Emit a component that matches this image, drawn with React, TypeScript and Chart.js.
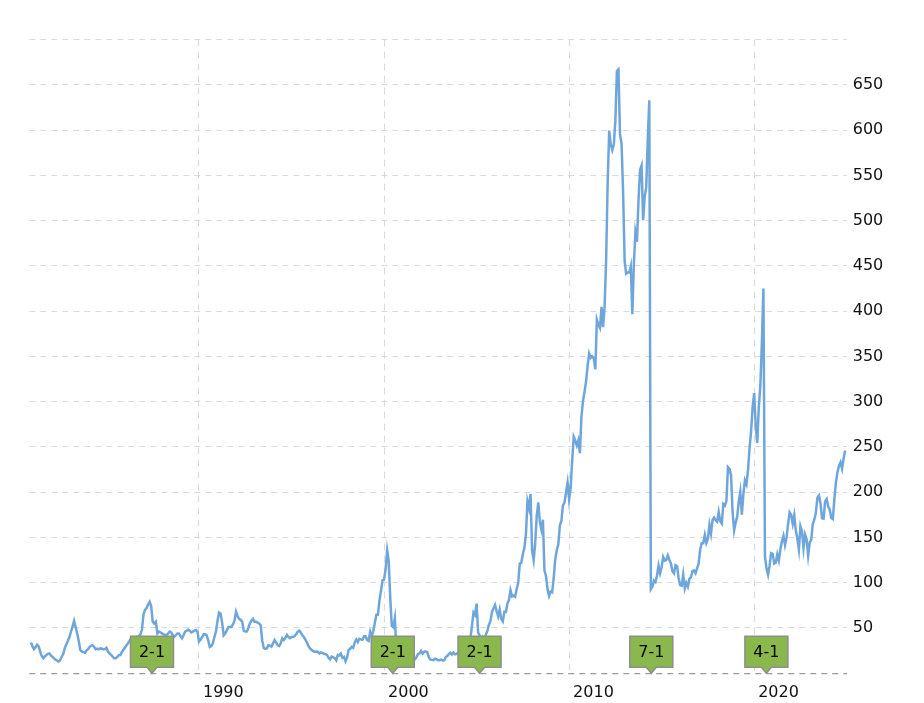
import { useEffect, useRef } from "react";
import { Chart, registerables } from "chart.js";

Chart.register(...registerables);

// Monthly closing price (unadjusted), first value = Dec 1980
const firstYear = 1980;
const firstMonth = 12;

const close1980s = [
  34,
  30, 26.7, 28.5, 31.5, 30, 24, 19, 16.5, 18.5, 20, 21.5, 22,
  19.5, 18.3, 16.5, 15, 14, 12.8, 14.6, 18.3, 21.5, 28, 32, 36,
  40, 46, 51.5, 58, 51, 44, 36, 25.7, 24, 23.4, 22.7, 25,
  26.5, 29, 30.3, 31, 29, 26.5, 27.3, 26.5, 27.5, 27, 26.5, 26.5,
  28, 23.8, 22, 20.2, 18.3, 16.5, 16.5, 18, 20, 20.2, 23.5, 26,
  28.5, 31, 33, 36, 38.5, 38, 38, 40, 40, 41, 43, 48,
  65, 70, 72, 76, 79, 74, 57, 55, 57, 44, 46, 45,
  44, 43, 42.5, 42.2, 44, 46, 45, 42, 40.4, 42, 44, 44,
  41, 38.6, 42, 46, 47, 48, 47, 45, 46, 47, 47.8, 46,
];

const close1990s = [
  35, 37, 40, 43, 43, 42, 36, 29, 30, 33, 40, 46,
  58, 67, 66, 56, 42, 44, 47, 51, 51, 51, 54, 58,
  68, 63, 60, 59, 57, 47, 46, 46, 50, 55, 58, 60,
  57, 57, 56, 55, 53, 36, 28, 27, 27.5, 31, 30.5, 29.3,
  33, 36.7, 34, 31, 30, 33, 38.6, 36.7, 39, 42.4, 40, 38.8,
  40, 40, 41, 43, 46, 47, 45, 42, 40, 37, 34, 30,
  27.5, 26, 24.5, 23.8, 24, 23.8, 22, 23, 22.5, 21.5, 21, 20.2,
  17, 15.3, 18.3, 17.6, 16.7, 14.3, 20.2, 19.5, 21.7, 17, 18, 13.1,
  17.5, 25.6, 27.0, 29.1, 28.1, 34.3, 37.3, 34.5, 38.1, 37.4, 36.9, 40.9,
  40.9, 36.9, 35.8, 46.0, 40.9, 46.3, 55.6, 64.5, 64.5, 80.3, 91.0, 102.8,
];

const close2000s = [
  103.75, 114.62, 135.81, 124.06, 84.0, 52.38, 50.81, 60.94, 25.75, 19.56, 16.5, 14.88,
  21.62, 19.94, 22.07, 25.49, 19.95, 23.25, 18.79, 18.55, 15.51, 17.56, 21.3, 21.9,
  24.72, 21.7, 23.67, 24.27, 23.3, 17.72, 15.26, 14.76, 14.5, 16.07, 15.53, 14.33,
  14.36, 15.01, 14.14, 14.22, 17.95, 19.06, 21.08, 22.61, 20.72, 22.89, 20.91, 21.37,
  22.56, 23.92, 27.04, 25.78, 28.06, 32.54, 32.34, 34.75, 38.75, 52.4, 67.05, 64.4,
  76.9, 44.86, 41.67, 36.06, 39.76, 36.81, 42.65, 46.89, 53.61, 57.59, 67.82, 71.89,
  75.51, 68.49, 62.72, 70.39, 59.77, 57.27, 67.96, 67.85, 76.98, 81.08, 91.66, 84.84,
  85.73, 84.61, 92.91, 99.8, 121.19, 122.04, 131.76, 138.48, 153.47, 189.95, 182.22, 198.08,
  135.36, 125.02, 143.5, 173.95, 188.75, 167.44, 158.95, 169.53, 113.66, 107.59, 92.67, 85.35,
  90.13, 89.31, 105.12, 125.83, 135.81, 142.43, 163.39, 168.21, 185.35, 188.5, 199.91, 210.73,
];

const close2010s = [
  192.06, 204.62, 235.0, 261.09, 256.88, 251.53, 257.25, 243.1, 283.75, 300.98, 311.15, 322.56,
  339.32, 353.21, 348.51, 350.13, 347.83, 335.67, 390.48, 384.83, 381.32, 404.78, 382.2, 405.0,
  456.48, 542.44, 599.55, 583.98, 577.73, 584.0, 610.76, 665.24, 667.1, 595.32, 585.28, 532.17,
  455.49, 441.4, 442.66, 442.78, 449.73, 396.53, 452.53, 487.22, 476.75, 522.7, 556.07, 561.02,
  500.6, 526.24, 536.74, 590.09, 633.0, 92.93, 95.6, 102.5, 100.75, 108.0, 118.93, 110.38,
  117.16, 128.46, 124.43, 125.15, 130.28, 125.43, 121.3, 112.76, 110.3, 119.5, 118.3, 105.26,
  97.34, 96.69, 108.99, 93.74, 99.86, 95.6, 104.21, 106.1, 113.05, 113.54, 110.52, 115.82,
  121.35, 136.99, 143.66, 143.65, 152.76, 144.02, 148.73, 164.0, 154.12, 169.04, 171.85, 169.23,
  167.43, 178.12, 167.78, 165.26, 186.87, 185.11, 190.29, 227.63, 225.74, 218.86, 178.58, 157.74,
  166.44, 173.15, 189.95, 200.67, 175.07, 197.92, 213.04, 208.74, 223.97, 248.76, 267.25, 293.65,
];

const close2020s = [
  309.51, 273.36, 254.29, 293.8, 317.94, 364.8, 425.04, 129.04, 115.81, 108.86, 119.05, 132.69,
  131.96, 121.26, 122.15, 131.46, 124.61, 136.96, 145.86, 151.83, 141.5, 149.8, 165.3, 177.57,
  174.78, 165.12, 174.61, 157.65, 148.84, 136.72, 162.51, 157.22, 138.2, 153.34, 148.03, 129.93,
  144.29, 147.41, 164.9, 169.68, 177.25, 193.97, 196.45, 187.87, 171.21, 170.77, 189.95, 192.53,
  184.4, 180.75, 171.48, 170.33, 192.25, 210.62, 222.08, 229.0, 233.0, 225.91, 237.33, 246.0,
];

const yearTicks = [1990, 2000, 2010, 2020];
const splitDates = [1987.46, 2000.47, 2005.16, 2014.44, 2020.66];
const splitLabels = ["2-1", "2-1", "2-1", "7-1", "4-1"];

const xMin = 1980.83;
const xMax = 2025.0;
const yMin = 0;
const yMax = 700;
const yStep = 50;

const FONT = "'DejaVu Sans', Verdana, sans-serif";

const splitMarkers = {
  id: "splitMarkers",
  afterDatasetsDraw(chart: any) {
    const { ctx } = chart;
    const x = chart.scales.x;
    const y = chart.scales.y;
    const base = y.getPixelForValue(0);
    const w = 43;
    const h = 31;
    const tip = 6;
    splitDates.forEach((d, i) => {
      const cx = x.getPixelForValue(d);
      const bottom = base - tip;
      const top = bottom - h;
      const l = cx - w / 2;
      const r = cx + w / 2;
      ctx.save();
      ctx.beginPath();
      ctx.moveTo(l, top);
      ctx.lineTo(r, top);
      ctx.lineTo(r, bottom);
      ctx.lineTo(cx + 5, bottom);
      ctx.lineTo(cx, base);
      ctx.lineTo(cx - 5, bottom);
      ctx.lineTo(l, bottom);
      ctx.closePath();
      ctx.fillStyle = "#8bb84d";
      ctx.fill();
      ctx.lineWidth = 1.5;
      ctx.strokeStyle = "#8e8e8e";
      ctx.stroke();
      ctx.fillStyle = "#000";
      ctx.font = `16px ${FONT}`;
      ctx.textAlign = "center";
      ctx.textBaseline = "middle";
      ctx.fillText(splitLabels[i], cx, (top + bottom) / 2 + 1);
      ctx.restore();
    });
  },
};

export default function App() {
  const canvasRef = useRef<HTMLCanvasElement | null>(null);

  useEffect(() => {
    if (!canvasRef.current) return;
    const all = [...close1980s, ...close1990s, ...close2000s, ...close2010s, ...close2020s];
    const points = all.map((v, i) => ({
      x: firstYear + (firstMonth - 1 + i) / 12,
      y: v,
    }));

    const chart = new Chart(canvasRef.current, {
      type: "line",
      data: {
        datasets: [
          {
            data: points,
            borderColor: "#6ea6dc",
            borderWidth: 2.5,
            pointRadius: 0,
            tension: 0,
            fill: false,
          },
        ],
      },
      options: {
        animation: false,
        responsive: true,
        maintainAspectRatio: false,
        parsing: false as any,
        layout: { padding: { left: 29.3, top: 39.6, right: 0, bottom: 0 } },
        plugins: {
          legend: { display: false },
          tooltip: { enabled: false },
        },
        scales: {
          x: {
            type: "linear",
            min: xMin,
            max: xMax,
            afterBuildTicks: (scale: any) => {
              scale.ticks = yearTicks.map((v) => ({ value: v }));
            },
            afterFit: (scale: any) => {
              scale.height = 29.75;
            },
            grid: {
              color: "#dadada",
              lineWidth: 1,
              drawTicks: false,
            },
            border: { display: false, dash: [7, 5] },
            ticks: {
              callback: (v: any) => String(v),
              align: "start",
              labelOffset: 4,
              padding: 10,
              maxRotation: 0,
              autoSkip: false,
              color: "#111",
              font: { family: FONT, size: 16 },
            },
          },
          y: {
            type: "linear",
            position: "right",
            min: yMin,
            max: yMax,
            afterFit: (scale: any) => {
              scale.width = 77.3;
            },
            grid: {
              color: (c: any) => (c.tick && c.tick.value === 0 ? "#9a9a9a" : "#dadada"),
              lineWidth: (c: any) => (c.tick && c.tick.value === 0 ? 1.2 : 1),
              drawTicks: false,
            },
            border: { display: false, dash: [6, 5] },
            ticks: {
              stepSize: yStep,
              padding: 6,
              color: "#111",
              font: { family: FONT, size: 16 },
              callback: (v: any) => (v === yMin || v === yMax ? "" : String(v)),
            },
          },
        },
      },
      plugins: [splitMarkers],
    });
    return () => chart.destroy();
  }, []);

  return (
    <div style={{ position: "fixed", left: 0, top: 0, width: 924, height: 703, background: "#fff" }}>
      <canvas ref={canvasRef} />
    </div>
  );
}
